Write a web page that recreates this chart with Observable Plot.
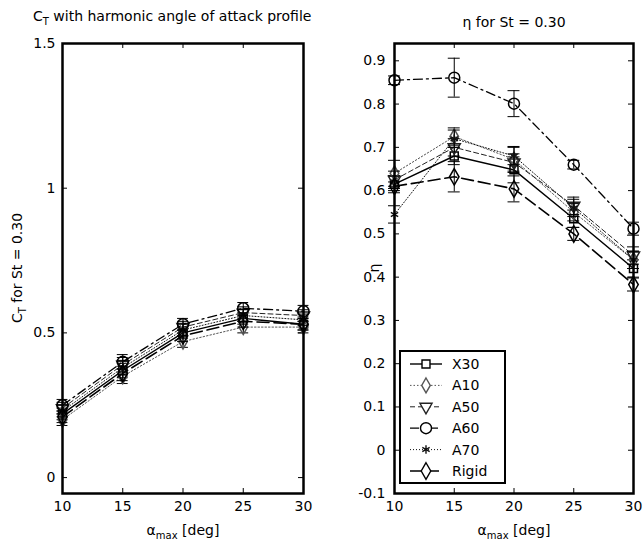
<!DOCTYPE html>
<html><head><meta charset="utf-8">
<script src="https://cdn.jsdelivr.net/npm/d3@7"></script>
<script src="https://cdn.jsdelivr.net/npm/@observablehq/plot@0.6"></script>
<style>
body{margin:0;background:#fff;}
#wrap{position:relative;width:643px;height:548px;background:#fff;font-family:"DejaVu Sans",sans-serif;color:#000;overflow:hidden}
.abs{position:absolute;white-space:nowrap;font-size:14px;line-height:1}
.c{transform:translate(-50%,-50%)}
.rot{transform:translate(-50%,-50%) rotate(-90deg)}
sub{font-size:10px;vertical-align:-4px}
svg{position:absolute;top:0}
</style></head><body><div id="wrap"></div>
<script>
// ---- data ----
const alpha = [10, 15, 20, 25, 30];
const seriesNames = ["X30", "A10", "A50", "A60", "A70", "Rigid"];
// thrust coefficient C_T for St = 0.30
const ctX30   = [0.22, 0.37, 0.50, 0.55, 0.53];
const ctA10   = [0.20, 0.35, 0.47, 0.52, 0.52];
const ctA50   = [0.24, 0.39, 0.52, 0.57, 0.56];
const ctA60   = [0.25, 0.40, 0.53, 0.585, 0.575];
const ctA70   = [0.23, 0.38, 0.51, 0.56, 0.545];
const ctRigid = [0.21, 0.36, 0.49, 0.54, 0.53];
const ctErr   = [0.02, 0.025, 0.02, 0.02, 0.02];
// efficiency eta for St = 0.30
const etaX30   = [0.615, 0.68, 0.648, 0.535, 0.42];
const etaA10   = [0.64, 0.725, 0.672, 0.55, 0.44];
const etaA50   = [0.625, 0.70, 0.665, 0.565, 0.45];
const etaA60   = [0.855, 0.861, 0.801, 0.66, 0.512];
const etaA70   = [0.545, 0.72, 0.68, 0.56, 0.44];
const etaRigid = [0.61, 0.632, 0.604, 0.50, 0.383];
const etaErrX30   = [0.02, 0.02, 0.03, 0.02, 0.02];
const etaErrA10   = [0.03, 0.02, 0.03, 0.02, 0.02];
const etaErrA50   = [0.02, 0.02, 0.02, 0.02, 0.02];
const etaErrA60   = [0.01, 0.045, 0.03, 0.01, 0.015];
const etaErrA70   = [0.02, 0.02, 0.02, 0.02, 0.02];
const etaErrRigid = [0.01, 0.035, 0.03, 0.015, 0.015];
const ctTicks = [0, 0.5, 1, 1.5];
const etaTicks = [-0.1, 0, 0.1, 0.2, 0.3, 0.4, 0.5, 0.6, 0.7, 0.8, 0.9];
const alphaTicks = [10, 15, 20, 25, 30];

const ctBy = {X30: ctX30, A10: ctA10, A50: ctA50, A60: ctA60, A70: ctA70, Rigid: ctRigid};
const etaBy = {X30: etaX30, A10: etaA10, A50: etaA50, A60: etaA60, A70: etaA70, Rigid: etaRigid};
const etaErrBy = {X30: etaErrX30, A10: etaErrA10, A50: etaErrA50, A60: etaErrA60, A70: etaErrA70, Rigid: etaErrRigid};

const rows = [];
for (const s of seriesNames) alpha.forEach((a, j) => rows.push({
  series: s, alpha: a, ct: ctBy[s][j], ctErr: ctErr[j], eta: etaBy[s][j], etaErr: etaErrBy[s][j]
}));

// ---- styles ----
const style = {
  X30:   {dash: null,       symbol: "square",   r: 4.5, rotate: 0,   stroke: "#000", sw: 1.4},
  A10:   {dash: "1.5,2",    symbol: "diamond",  r: 4.5, rotate: 0,   stroke: "#555", sw: 1},
  A50:   {dash: "5,3",      symbol: "triangle", r: 4.5, rotate: 180, stroke: "#222", sw: 1},
  A60:   {dash: "9,4,2,4",  symbol: "circle",   r: 5.5, rotate: 0,   stroke: "#000", sw: 1.3},
  A70:   {dash: "1,2",      symbol: "asterisk", r: 4,   rotate: 0,   stroke: "#111", sw: 1},
  Rigid: {dash: "12,5",     symbol: "diamond",  r: 5,   rotate: 0,   stroke: "#000", sw: 1.6}
};

function seriesMarks(yKey, errKey, capHalf) {
  const m = [];
  for (const s of seriesNames) {
    const st = style[s];
    const d = rows.filter(r => r.series === s);
    m.push(Plot.line(d, {x: "alpha", y: yKey, stroke: st.stroke, strokeWidth: st.sw, strokeDasharray: st.dash}));
    m.push(Plot.ruleX(d, {x: "alpha", y1: r => r[yKey] - r[errKey], y2: r => r[yKey] + r[errKey], stroke: "#000", strokeWidth: 1}));
    m.push(Plot.ruleY(d, {y: r => r[yKey] - r[errKey], x1: r => r.alpha - capHalf, x2: r => r.alpha + capHalf, stroke: "#000", strokeWidth: 1}));
    m.push(Plot.ruleY(d, {y: r => r[yKey] + r[errKey], x1: r => r.alpha - capHalf, x2: r => r.alpha + capHalf, stroke: "#000", strokeWidth: 1}));
    m.push(Plot.dot(d, {x: "alpha", y: yKey, symbol: () => st.symbol, r: st.r, rotate: st.rotate, stroke: st.stroke, strokeWidth: 1.5, fill: "none"}));
  }
  return m;
}

function panel({width, ml, mr, yKey, errKey, yDomain, yTicks, tickPad, capHalf}) {
  const H = 548, mt = 43, mb = 55;
  const iw = width - ml - mr, ih = H - mt - mb;
  return Plot.plot({
    width, height: H, marginLeft: ml, marginRight: mr, marginTop: mt, marginBottom: mb,
    style: {fontFamily: "'DejaVu Sans', sans-serif", fontSize: "14px", background: "white", color: "black"},
    x: {domain: [10, 30]},
    y: {domain: yDomain},
    marks: [
      Plot.axisX(alphaTicks, {anchor: "bottom", tickSize: 0, tickPadding: 8, label: null, fontSize: 14}),
      Plot.axisY(yTicks, {anchor: "left", tickSize: 0, tickPadding: tickPad, label: null, fontSize: 14, tickFormat: d => String(+d.toFixed(2))}),
      Plot.tickY(yTicks, {y: d => d, insetRight: iw - 5, stroke: "#000"}),
      Plot.tickY(yTicks, {y: d => d, insetLeft: iw - 5, stroke: "#000"}),
      Plot.tickX(alphaTicks, {x: d => d, insetTop: ih - 5, stroke: "#000"}),
      Plot.tickX(alphaTicks, {x: d => d, insetBottom: ih - 5, stroke: "#000"}),
      ...seriesMarks(yKey, errKey, capHalf),
      Plot.frame({stroke: "#000", strokeWidth: 2.5})
    ]
  });
}

const wrap = document.getElementById("wrap");
const left = panel({width: 320, ml: 62, mr: 17, yKey: "ct", errKey: "ctErr", yDomain: [-0.055, 1.5], yTicks: ctTicks, tickPad: 7, capHalf: 0.45});
left.style.left = "0px";
wrap.appendChild(left);
const right = panel({width: 323, ml: 74, mr: 10, yKey: "eta", errKey: "etaErr", yDomain: [-0.1, 0.94], yTicks: etaTicks, tickPad: 9, capHalf: 0.5});
right.style.left = "320px";
wrap.appendChild(right);

// ---- texts ----
function addText(html, x, y, cls) {
  const d = document.createElement("div");
  d.className = "abs " + cls;
  d.style.left = x + "px"; d.style.top = y + "px";
  d.innerHTML = html;
  wrap.appendChild(d);
}
addText("C<sub>T</sub> with harmonic angle of attack profile", 33, 9, "");
addText("η for St = 0.30", 514, 22, "c");
addText("C<sub>T</sub> for St = 0.30", 19, 268, "rot");
addText("η", 374, 268, "rot");
addText("α<sub>max</sub> [deg]", 183, 532, "c");
addText("α<sub>max</sub> [deg]", 514, 532, "c");

// ---- legend ----
const lg = d3.create("svg").attr("width", 643).attr("height", 548).style("left", "0px").style("pointer-events", "none");
lg.append("rect").attr("x", 400).attr("y", 351).attr("width", 105).attr("height", 132)
  .attr("fill", "white").attr("stroke", "black").attr("stroke-width", 2);
const symMap = {square: d3.symbolSquare, diamond: d3.symbolDiamond, triangle: d3.symbolTriangle, circle: d3.symbolCircle, asterisk: d3.symbolAsterisk};
seriesNames.forEach((s, i) => {
  const st = style[s];
  const y = 364 + i * 21.4;
  lg.append("line").attr("x1", 410).attr("x2", 442).attr("y1", y).attr("y2", y)
    .attr("stroke", st.stroke).attr("stroke-width", st.sw).attr("stroke-dasharray", st.dash);
  lg.append("path").attr("d", d3.symbol(symMap[st.symbol], Math.PI * st.r * st.r)())
    .attr("transform", `translate(426,${y}) rotate(${st.rotate})`)
    .attr("fill", "white").attr("stroke", st.stroke).attr("stroke-width", 1.4);
  lg.append("text").attr("x", 452).attr("y", y).attr("dy", "0.35em").attr("font-size", 14)
    .attr("font-family", "'DejaVu Sans', sans-serif").text(s);
});
wrap.appendChild(lg.node());
</script></body></html>
